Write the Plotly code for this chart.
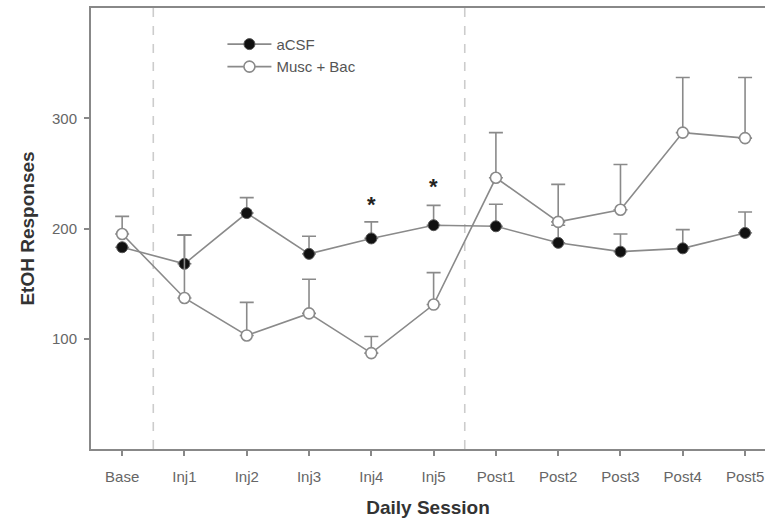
import plotly.graph_objects as go

sessions = ["Base", "Inj1", "Inj2", "Inj3", "Inj4", "Inj5", "Post1", "Post2", "Post3", "Post4", "Post5"]
acsf_mean = [183, 168, 214, 177, 191, 203, 202, 187, 179, 182, 196]
acsf_sem = [0, 26, 14, 16, 15, 18, 20, 16, 16, 17, 19]
musc_mean = [195, 137, 103, 123, 87, 131, 246, 206, 217, 287, 282]
musc_sem = [16, 57, 30, 31, 15, 29, 41, 34, 41, 50, 55]
star_sessions = ["Inj4", "Inj5"]
star_values = [222, 238]
y_ticks = [100, 200, 300]

x_idx = list(range(len(sessions)))
line_col = "#8a8a8a"
font_fam = "Liberation Sans, Arial, sans-serif"

fig = go.Figure()

fig.add_trace(go.Scatter(
    x=x_idx, y=acsf_mean, name="aCSF", mode="lines+markers",
    line=dict(color=line_col, width=1.6),
    marker=dict(symbol="circle", size=11, color="#111111", line=dict(color="#555555", width=1)),
    error_y=dict(type="data", symmetric=False, array=acsf_sem, arrayminus=[0] * len(acsf_sem),
                 color=line_col, thickness=1.6, width=7),
))
fig.add_trace(go.Scatter(
    x=x_idx, y=musc_mean, name="Musc + Bac", mode="lines+markers",
    line=dict(color=line_col, width=1.6),
    marker=dict(symbol="circle", size=11, color="white", line=dict(color=line_col, width=1.6)),
    error_y=dict(type="data", symmetric=False, array=musc_sem, arrayminus=[0] * len(musc_sem),
                 color=line_col, thickness=1.6, width=7),
))

for xv in [0.5, 5.5]:
    fig.add_shape(type="line", xref="x", yref="paper", x0=xv, x1=xv, y0=0, y1=1,
                  line=dict(color="#cccccc", width=1.6, dash="dash"), layer="below")

for s, v in zip(star_sessions, star_values):
    fig.add_annotation(x=sessions.index(s), y=v, text="<b>*</b>", showarrow=False,
                       font=dict(size=22, color="#222222", family=font_fam), yanchor="middle")

fig.update_layout(
    width=765, height=525,
    margin=dict(l=91, r=0, t=8, b=76),
    paper_bgcolor="white", plot_bgcolor="white",
    font=dict(family=font_fam, color="#666666", size=15),
    showlegend=True,
    legend=dict(x=0.195, y=0.955, xanchor="left", yanchor="top", bgcolor="rgba(0,0,0,0)",
                font=dict(size=15, color="#555555"), tracegroupgap=0, itemwidth=44),
)
fig.update_xaxes(
    range=[-0.5, 10.32], tickmode="array", tickvals=x_idx, ticktext=sessions,
    showline=True, linecolor="#888888", linewidth=2, mirror=True,
    ticks="outside", ticklen=5, tickcolor="#888888", tickwidth=1.5,
    showgrid=False, zeroline=False, ticklabelstandoff=8,
    title=dict(text="<b>Daily Session</b>", font=dict(size=19, color="#333333"), standoff=17),
    tickfont=dict(size=15, color="#666666"),
)
fig.update_yaxes(
    range=[0, 400], tickmode="array", tickvals=y_ticks,
    showline=True, linecolor="#888888", linewidth=2, mirror=False,
    ticks="outside", ticklen=5, tickcolor="#888888", tickwidth=1.5,
    showgrid=False, zeroline=False, ticklabelstandoff=4,
    title=dict(text="<b>EtOH Responses</b>", font=dict(size=19, color="#333333"), standoff=12),
    tickfont=dict(size=15, color="#666666"),
)

fig.write_html("out.html")
